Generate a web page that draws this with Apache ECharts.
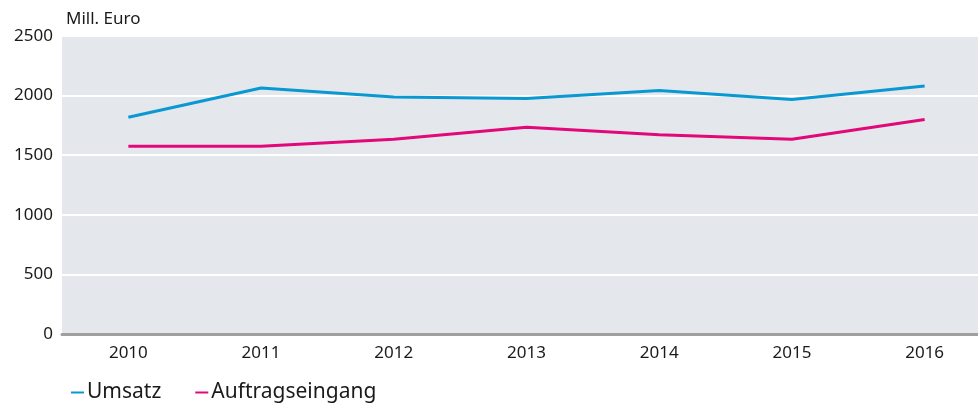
<!DOCTYPE html>
<html>
<head>
<meta charset="utf-8">
<script src="https://cdn.jsdelivr.net/npm/echarts@6/dist/echarts.min.js"></script>
<style>
  html, body { margin: 0; padding: 0; background: #fff; }
  #chart { width: 978px; height: 403px; }
</style>
</head>
<body>
<div id="chart"></div>
<script>
// Jahre und Werte (Mill. Euro)
const years = ['2010', '2011', '2012', '2013', '2014', '2015', '2016'];
const umsatz = [1818, 2064, 1989, 1975, 2042, 1967, 2081];
const auftragseingang = [1576, 1576, 1634, 1735, 1671, 1634, 1799];
const yTicks = [0, 500, 1000, 1500, 2000, 2500];

const font = '"Noto Sans", "Open Sans", sans-serif';
const myChart = echarts.init(document.getElementById('chart'));

myChart.setOption({
  animation: false,
  textStyle: { fontFamily: font },
  // Zeichenfläche läuft rechts über den Bildrand hinaus
  grid: { left: 62, width: 929, top: 36, bottom: 69, containLabel: false, outerBoundsMode: 'none' },
  legend: {
    left: 66,
    bottom: -5,
    itemWidth: 13,
    itemHeight: 2,
    itemGap: 34,
    icon: 'rect',
    textStyle: { fontSize: 21, color: '#1a1a1a', fontFamily: font, padding: [0, 0, 0, -2] },
    data: ['Umsatz', 'Auftragseingang']
  },
  xAxis: {
    type: 'category',
    data: years,
    boundaryGap: true,
    axisLine: { lineStyle: { color: '#9f9f9f', width: 3 } },
    axisTick: { show: false },
    axisLabel: { fontSize: 17, color: '#1a1a1a', margin: 11 },
    splitArea: { show: false }
  },
  yAxis: {
    type: 'value',
    min: yTicks[0],
    max: yTicks[yTicks.length - 1],
    interval: 500,
    name: 'Mill. Euro',
    nameLocation: 'end',
    nameGap: 8,
    nameTextStyle: { fontSize: 17, color: '#1a1a1a', align: 'left', padding: [0, 0, 0, 4] },
    axisLine: { show: false },
    axisTick: { show: false },
    axisLabel: { fontSize: 17, color: '#1a1a1a', margin: 9, formatter: (v) => String(v) },
    splitLine: { lineStyle: { color: '#ffffff', width: 2 } },
    splitArea: { show: true, areaStyle: { color: ['#e4e8ec'] } }
  },
  series: [
    {
      name: 'Umsatz',
      type: 'line',
      data: umsatz,
      symbol: 'none',
      color: '#0a98d3',
      lineStyle: { width: 3 }
    },
    {
      name: 'Auftragseingang',
      type: 'line',
      data: auftragseingang,
      symbol: 'none',
      color: '#e2087a',
      lineStyle: { width: 3 }
    }
  ]
});
</script>
</body>
</html>
